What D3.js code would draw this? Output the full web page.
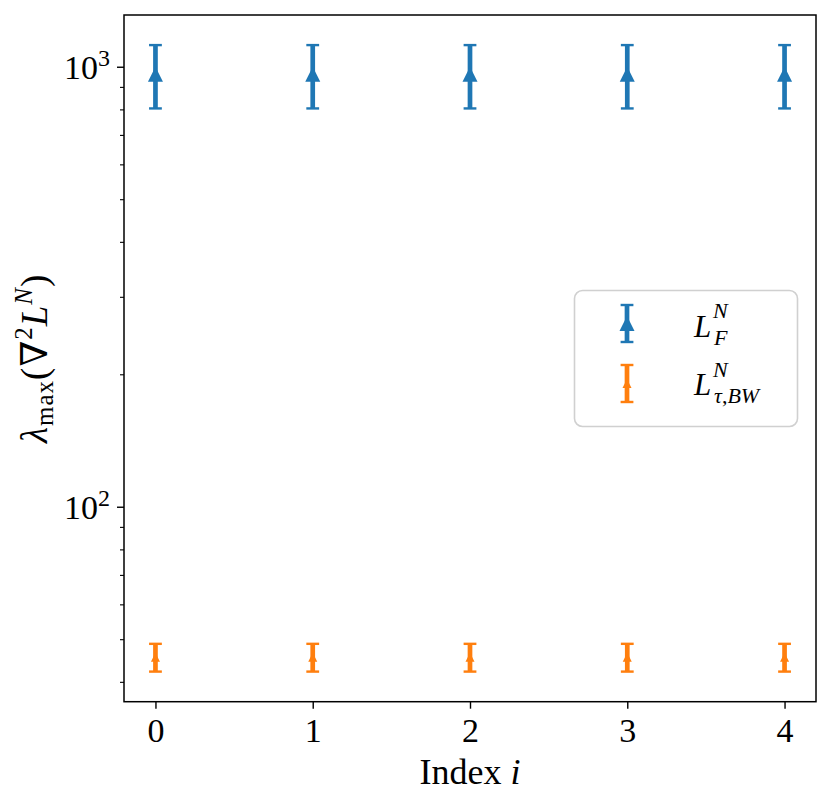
<!DOCTYPE html>
<html><head><meta charset="utf-8">
<script src="https://cdn.jsdelivr.net/npm/d3@7"></script>
<style>body{margin:0;background:#fff}svg{display:block}</style>
</head><body>
<script>
// ---- data ----
const indices = [0, 1, 2, 3, 4];
const seriesF_mean = [962, 962, 962, 962, 962];
const seriesF_err  = [158, 158, 158, 158, 158];
const seriesBW_mean = [45.5, 45.5, 45.5, 45.5, 45.5];
const seriesBW_err  = [3.3, 3.3, 3.3, 3.3, 3.3];
const xTicks = [0, 1, 2, 3, 4];
const yMajorTicks = [100, 1000];
const yMinorTicks = [40, 50, 60, 70, 80, 90, 200, 300, 400, 500, 600, 700, 800, 900];

(function () {
const W = 831, H = 806;
const pL = 124, pR = 816, pT = 15, pB = 701.7;
const FONT = "'Liberation Serif', 'DejaVu Serif', serif";
const blue = "#1f77b4", orange = "#ff7f0e";

const svg = d3.select("body").append("svg").attr("width", W).attr("height", H);

const x = d3.scaleLinear().domain([-0.2, 4.2]).range([pL, pR]);
const y = d3.scaleLog().domain([36.05, 1311]).range([pB, pT]);

// axes
const xAxis = svg.append("g").attr("transform", `translate(0,${pB})`)
  .call(d3.axisBottom(x).tickValues(xTicks).tickSize(7).tickPadding(9).tickFormat(d3.format("d")));
xAxis.select(".domain").remove();
xAxis.selectAll("line").attr("stroke", "#000").attr("stroke-width", 1.4);
xAxis.selectAll("text").attr("font-family", FONT).attr("font-size", 34).attr("fill", "#000");

const yAxisMinor = svg.append("g").attr("transform", `translate(${pL},0)`)
  .call(d3.axisLeft(y).tickValues(yMinorTicks).tickSize(4).tickFormat(""));
yAxisMinor.select(".domain").remove();
yAxisMinor.selectAll("line").attr("stroke", "#000").attr("stroke-width", 1.1);

const yAxis = svg.append("g").attr("transform", `translate(${pL},0)`)
  .call(d3.axisLeft(y).tickValues(yMajorTicks).tickSize(7).tickFormat(""));
yAxis.select(".domain").remove();
yAxis.selectAll("line").attr("stroke", "#000").attr("stroke-width", 1.4);
yAxis.selectAll(".tick").each(function(d) {
  const t = d3.select(this).append("text")
    .attr("font-family", FONT).attr("font-size", 34).attr("fill", "#000")
    .attr("text-anchor", "end").attr("x", -14).attr("y", 12);
  t.append("tspan").text("10");
  t.append("tspan").attr("font-size", 24).attr("dy", -13).text(String(Math.round(Math.log10(d))));
});

// frame
svg.append("rect").attr("x", pL).attr("y", pT).attr("width", pR - pL).attr("height", pB - pT)
  .attr("fill", "none").attr("stroke", "#000").attr("stroke-width", 1.5);

// error bars
function drawSeries(mean, err, color, msize) {
  const g = svg.append("g");
  const data = indices.map((d, i) => ({ x: d, m: mean[i], e: err[i] }));
  g.selectAll(".bar").data(data).join("line")
    .attr("x1", d => x(d.x)).attr("x2", d => x(d.x))
    .attr("y1", d => y(d.m + d.e)).attr("y2", d => y(d.m - d.e))
    .attr("stroke", color).attr("stroke-width", 4.7);
  g.selectAll(".capT").data(data).join("line")
    .attr("x1", d => x(d.x) - 6.4).attr("x2", d => x(d.x) + 6.4)
    .attr("y1", d => y(d.m + d.e)).attr("y2", d => y(d.m + d.e))
    .attr("stroke", color).attr("stroke-width", 2.4);
  g.selectAll(".capB").data(data).join("line")
    .attr("x1", d => x(d.x) - 6.4).attr("x2", d => x(d.x) + 6.4)
    .attr("y1", d => y(d.m - d.e)).attr("y2", d => y(d.m - d.e))
    .attr("stroke", color).attr("stroke-width", 2.4);
  const h = msize / 2;
  g.selectAll(".mk").data(data).join("path")
    .attr("d", d => `M${x(d.x)},${y(d.m) - h}L${x(d.x) - h},${y(d.m) + h}L${x(d.x) + h},${y(d.m) + h}Z`)
    .attr("fill", color);
}
drawSeries(seriesF_mean, seriesF_err, blue, 15);
drawSeries(seriesBW_mean, seriesBW_err, orange, 9);

// axis labels
const xl = svg.append("text").attr("x", (pL + pR) / 2).attr("y", 784)
  .attr("text-anchor", "middle").attr("font-family", FONT).attr("font-size", 36).attr("fill", "#000");
xl.append("tspan").text("Index ");
xl.append("tspan").attr("font-style", "italic").text("i");

const yl = svg.append("text").attr("transform", `translate(47,${(pT + pB) / 2}) rotate(-90)`)
  .attr("text-anchor", "middle").attr("font-family", FONT).attr("font-size", 37).attr("fill", "#000")
  .attr("letter-spacing", 1);
yl.append("tspan").attr("font-style", "italic").text("λ");
yl.append("tspan").attr("font-size", 25).attr("dy", 6).text("max");
yl.append("tspan").attr("dy", -6).text("(∇");
yl.append("tspan").attr("font-size", 25).attr("dy", -15).text("2");
yl.append("tspan").attr("font-style", "italic").attr("dy", 15).text("L");
yl.append("tspan").attr("font-style", "italic").attr("font-size", 25).attr("dy", -15).text("N");
yl.append("tspan").attr("dy", 15).text(")");

// legend
const lg = svg.append("g");
lg.append("rect").attr("x", 574.5).attr("y", 290.5).attr("width", 223).attr("height", 136).attr("rx", 8)
  .attr("fill", "rgba(255,255,255,0.8)").attr("stroke", "#d0d0d0").attr("stroke-width", 1.6);
function legendMark(cy, color, msize) {
  const cx = 627, hl = 18.5, h = msize / 2;
  lg.append("line").attr("x1", cx).attr("x2", cx).attr("y1", cy - hl).attr("y2", cy + hl)
    .attr("stroke", color).attr("stroke-width", 4.7);
  [cy - hl, cy + hl].forEach(yy => lg.append("line").attr("x1", cx - 6.4).attr("x2", cx + 6.4)
    .attr("y1", yy).attr("y2", yy).attr("stroke", color).attr("stroke-width", 2.4));
  lg.append("path").attr("d", `M${cx},${cy - h}L${cx - h},${cy + h}L${cx + h},${cy + h}Z`).attr("fill", color);
}
legendMark(323.5, blue, 15);
legendMark(383.5, orange, 9);

function legendText(baseY, supY, subY, sub) {
  const t = lg.append("text").attr("font-family", FONT).attr("fill", "#000").attr("font-style", "italic");
  t.append("tspan").attr("x", 694).attr("y", baseY).attr("font-size", 31).text("L");
  t.append("tspan").attr("x", 713).attr("y", supY).attr("font-size", 22).text("N");
  const s = t.append("tspan").attr("x", 714).attr("y", subY).attr("font-size", 22);
  sub.forEach(p => s.append("tspan").attr("font-style", p[1] ? "italic" : "normal").text(p[0]));
}
legendText(337, 318, 345, [["F", 1]]);
legendText(395, 377, 403, [["τ", 1], [",", 0], ["BW", 1]]);
})();
</script>
</body></html>
